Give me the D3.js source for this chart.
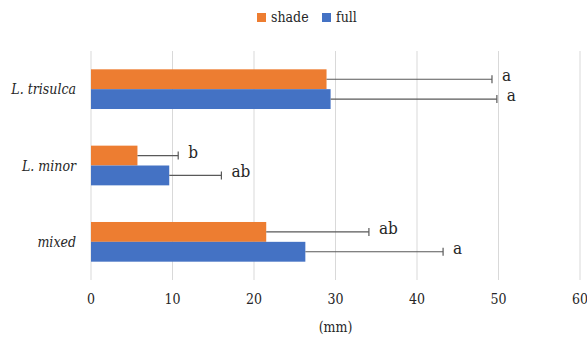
<!DOCTYPE html>
<html>
<head>
<meta charset="utf-8">
<script src="https://cdn.jsdelivr.net/npm/d3@7"></script>
<style>
  body { margin: 0; background: #fff; }
</style>
</head>
<body>
<svg id="chart" width="587" height="337" font-family="'DejaVu Serif Condensed', 'DejaVu Serif', serif" font-stretch="condensed"></svg>
<script>
// data
const categories = ["L. trisulca", "L. minor", "mixed"];
const seriesNames = ["shade", "full"];
const shadeValues = [28.9, 5.7, 21.5];
const shadeErrors = [20.3, 5.0, 12.6];
const shadeLetters = ["a", "b", "ab"];
const fullValues = [29.4, 9.6, 26.3];
const fullErrors = [20.4, 6.4, 16.9];
const fullLetters = ["a", "ab", "a"];
const xTicks = [0, 10, 20, 30, 40, 50, 60];

const colors = { shade: "#ED7D31", full: "#4472C4" };

const svg = d3.select("#chart");
const margin = { left: 91, right: 7, top: 51, bottom: 57 };
const width = 587, height = 337;

const x = d3.scaleLinear().domain([0, 60]).range([margin.left, width - margin.right]);
const y = d3.scaleBand().domain(categories).range([margin.top, height - margin.bottom]).paddingInner(0.48).paddingOuter(0.24);

const rows = categories.map((c, i) => ({
  cat: c,
  series: [
    { name: "shade", value: shadeValues[i], err: shadeErrors[i], letter: shadeLetters[i] },
    { name: "full", value: fullValues[i], err: fullErrors[i], letter: fullLetters[i] }
  ]
}));

const inner = d3.scaleBand().domain(seriesNames).range([0, y.bandwidth()]);

// gridlines
svg.append("g")
  .selectAll("line")
  .data(xTicks)
  .join("line")
  .attr("x1", d => x(d)).attr("x2", d => x(d))
  .attr("y1", margin.top).attr("y2", height - margin.bottom)
  .attr("stroke", "#d9d9d9")
  .attr("stroke-width", 1);

// tick labels
svg.append("g")
  .selectAll("text")
  .data(xTicks)
  .join("text")
  .attr("x", d => x(d))
  .attr("y", 304)
  .attr("text-anchor", "middle")
  .attr("font-size", 14)
  .attr("fill", "#262626")
  .text(d => d);

svg.append("text")
  .attr("x", x(30))
  .attr("y", 332)
  .attr("text-anchor", "middle")
  .attr("font-size", 14)
  .attr("fill", "#262626")
  .text("(mm)");

// category labels
svg.append("g")
  .selectAll("text")
  .data(categories)
  .join("text")
  .attr("x", 76)
  .attr("y", d => y(d) + y.bandwidth() / 2 + 5)
  .attr("text-anchor", "end")
  .attr("font-size", 14)
  .attr("font-style", "italic")
  .attr("fill", "#262626")
  .text(d => d);

const groups = svg.append("g")
  .selectAll("g")
  .data(rows)
  .join("g")
  .attr("transform", d => `translate(0,${y(d.cat)})`);

const items = groups.selectAll("g")
  .data(d => d.series)
  .join("g");

items.append("rect")
  .attr("x", x(0))
  .attr("y", d => inner(d.name))
  .attr("width", d => x(d.value) - x(0))
  .attr("height", inner.bandwidth())
  .attr("fill", d => colors[d.name]);

// error bars
items.append("line")
  .attr("x1", d => x(d.value))
  .attr("x2", d => x(d.value + d.err))
  .attr("y1", d => inner(d.name) + inner.bandwidth() / 2)
  .attr("y2", d => inner(d.name) + inner.bandwidth() / 2)
  .attr("stroke", "#595959")
  .attr("stroke-width", 1.2);

items.append("line")
  .attr("x1", d => x(d.value + d.err))
  .attr("x2", d => x(d.value + d.err))
  .attr("y1", d => inner(d.name) + inner.bandwidth() / 2 - 4)
  .attr("y2", d => inner(d.name) + inner.bandwidth() / 2 + 4)
  .attr("stroke", "#595959")
  .attr("stroke-width", 1.2);

items.append("text")
  .attr("x", d => x(d.value + d.err) + 10)
  .attr("y", d => inner(d.name) + inner.bandwidth() / 2 + 2)
  .attr("font-size", 17)
  .attr("fill", "#262626")
  .text(d => d.letter);

// legend
const legend = svg.append("g").attr("transform", "translate(257,13)");
legend.selectAll("g")
  .data(seriesNames)
  .join("g")
  .attr("transform", (d, i) => `translate(${i === 0 ? 0 : 65},0)`)
  .call(g => {
    g.append("rect").attr("width", 9).attr("height", 9).attr("fill", d => colors[d]);
    g.append("text").attr("x", 14).attr("y", 9).attr("font-size", 14).attr("fill", "#262626").text(d => d);
  });
</script>
</body>
</html>
